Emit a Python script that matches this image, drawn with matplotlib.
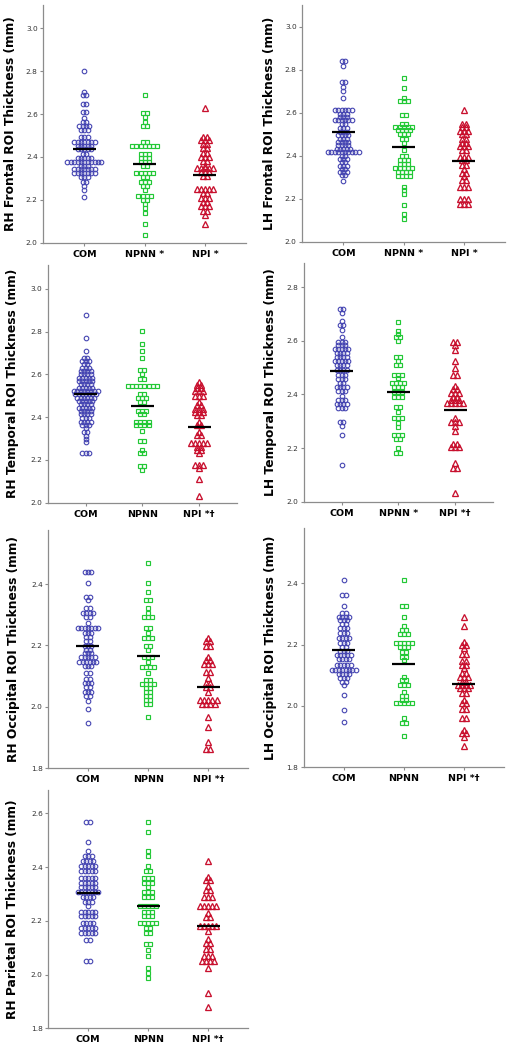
import numpy as np
import matplotlib
matplotlib.use("Agg")
import matplotlib.pyplot as plt

# ---------------- data (bin values and counts per group) ----------------
groups = ["COM", "NPNN", "NPI"]

# Panel 1: RH Frontal
rhf_com_v = [2.803, 2.705, 2.688, 2.647, 2.608, 2.580, 2.565, 2.545, 2.526, 2.495, 2.471, 2.453, 2.435, 2.414, 2.394, 2.378, 2.357, 2.342, 2.324, 2.305, 2.285, 2.265, 2.247, 2.215]
rhf_com_n = [1, 1, 2, 2, 2, 1, 2, 4, 3, 3, 7, 5, 5, 2, 5, 11, 3, 7, 7, 3, 2, 1, 1, 1]
rhf_npnn_v = [2.689, 2.605, 2.585, 2.565, 2.545, 2.471, 2.453, 2.416, 2.397, 2.378, 2.357, 2.324, 2.305, 2.285, 2.265, 2.247, 2.218, 2.199, 2.180, 2.160, 2.140, 2.087, 2.036]
rhf_npnn_n = [1, 2, 1, 1, 2, 2, 7, 3, 3, 3, 2, 5, 2, 3, 2, 1, 4, 2, 1, 1, 1, 1, 1]
rhf_npi_v = [2.627, 2.495, 2.480, 2.460, 2.440, 2.420, 2.400, 2.380, 2.360, 2.347, 2.330, 2.310, 2.249, 2.230, 2.210, 2.190, 2.170, 2.150, 2.130, 2.087]
rhf_npi_n = [1, 2, 3, 2, 2, 2, 3, 2, 1, 5, 3, 2, 5, 2, 3, 2, 3, 2, 1, 1]
rhf_mean = [2.437, 2.369, 2.318]

# Panel 2: LH Frontal
lhf_com_v = [2.843, 2.820, 2.743, 2.720, 2.700, 2.671, 2.614, 2.597, 2.582, 2.567, 2.550, 2.530, 2.513, 2.497, 2.480, 2.465, 2.450, 2.433, 2.417, 2.400, 2.385, 2.370, 2.355, 2.340, 2.325, 2.310, 2.284]
lhf_com_n = [2, 1, 2, 1, 1, 1, 6, 3, 3, 6, 2, 3, 3, 4, 3, 4, 4, 5, 10, 2, 3, 2, 3, 2, 3, 2, 1]
lhf_npnn_v = [2.761, 2.716, 2.670, 2.655, 2.591, 2.550, 2.535, 2.520, 2.500, 2.480, 2.459, 2.430, 2.400, 2.380, 2.365, 2.345, 2.325, 2.305, 2.255, 2.240, 2.225, 2.172, 2.128, 2.108]
lhf_npnn_n = [1, 1, 1, 3, 2, 2, 5, 4, 3, 2, 1, 1, 2, 3, 3, 5, 4, 4, 1, 1, 1, 1, 1, 1]
lhf_npi_v = [2.614, 2.550, 2.535, 2.515, 2.500, 2.480, 2.460, 2.445, 2.430, 2.397, 2.380, 2.360, 2.340, 2.320, 2.305, 2.290, 2.257, 2.199, 2.177]
lhf_npi_n = [1, 2, 2, 3, 2, 2, 2, 3, 2, 3, 2, 2, 1, 2, 1, 2, 3, 3, 3]
lhf_mean = [2.513, 2.440, 2.377]

# Panel 3: RH Temporal
rht_com_v = [2.877, 2.768, 2.709, 2.678, 2.662, 2.647, 2.631, 2.615, 2.600, 2.584, 2.569, 2.553, 2.537, 2.522, 2.506, 2.491, 2.475, 2.460, 2.444, 2.429, 2.413, 2.398, 2.379, 2.363, 2.348, 2.332, 2.314, 2.298, 2.282, 2.231]
rht_com_n = [1, 1, 1, 2, 3, 2, 3, 4, 4, 5, 5, 4, 5, 8, 7, 6, 5, 4, 5, 4, 4, 3, 4, 3, 1, 2, 1, 1, 1, 3]
rht_npnn_v = [2.802, 2.740, 2.709, 2.678, 2.620, 2.600, 2.580, 2.545, 2.506, 2.491, 2.472, 2.429, 2.413, 2.379, 2.363, 2.335, 2.288, 2.246, 2.231, 2.173, 2.153]
rht_npnn_n = [1, 1, 1, 1, 2, 1, 2, 8, 2, 3, 2, 3, 2, 4, 4, 1, 2, 1, 2, 2, 1]
rht_npi_v = [2.565, 2.550, 2.535, 2.520, 2.500, 2.472, 2.456, 2.440, 2.425, 2.410, 2.379, 2.363, 2.332, 2.318, 2.277, 2.262, 2.246, 2.230, 2.176, 2.160, 2.113, 2.031]
rht_npi_n = [1, 2, 2, 3, 3, 1, 2, 3, 3, 2, 1, 2, 1, 2, 5, 2, 2, 1, 3, 1, 1, 1]
rht_mean = [2.506, 2.452, 2.352]

# Panel 4: LH Temporal
lht_com_v = [2.718, 2.703, 2.672, 2.660, 2.641, 2.613, 2.597, 2.585, 2.569, 2.554, 2.539, 2.523, 2.510, 2.492, 2.473, 2.457, 2.442, 2.427, 2.411, 2.394, 2.380, 2.365, 2.348, 2.298, 2.282, 2.249, 2.137]
lht_com_n = [2, 1, 1, 2, 1, 1, 3, 3, 5, 4, 4, 5, 4, 4, 3, 3, 2, 4, 3, 1, 3, 4, 3, 2, 1, 1, 1]
lht_npnn_v = [2.670, 2.638, 2.626, 2.613, 2.600, 2.541, 2.526, 2.510, 2.473, 2.460, 2.444, 2.429, 2.410, 2.392, 2.352, 2.336, 2.311, 2.295, 2.280, 2.249, 2.232, 2.199, 2.180]
lht_npnn_n = [1, 1, 1, 2, 1, 2, 1, 2, 3, 1, 4, 3, 3, 3, 2, 1, 3, 1, 1, 3, 2, 1, 2]
lht_npi_v = [2.597, 2.585, 2.566, 2.525, 2.498, 2.473, 2.432, 2.419, 2.406, 2.392, 2.380, 2.367, 2.311, 2.298, 2.282, 2.265, 2.217, 2.205, 2.143, 2.127, 2.034]
lht_npi_n = [2, 1, 1, 1, 1, 2, 1, 2, 3, 2, 3, 5, 1, 3, 1, 1, 2, 3, 1, 2, 1]
lht_mean = [2.489, 2.410, 2.342]

# Panel 5: RH Occipital
rho_com_v = [2.440, 2.403, 2.359, 2.348, 2.323, 2.305, 2.292, 2.272, 2.258, 2.240, 2.227, 2.213, 2.198, 2.186, 2.175, 2.162, 2.147, 2.133, 2.109, 2.090, 2.077, 2.064, 2.050, 2.037, 2.020, 1.992, 1.949]
rho_com_n = [3, 1, 2, 1, 2, 4, 2, 1, 7, 3, 2, 2, 3, 2, 3, 5, 6, 3, 2, 2, 3, 2, 3, 2, 1, 1, 1]
rho_npnn_v = [2.467, 2.403, 2.373, 2.348, 2.323, 2.305, 2.292, 2.258, 2.240, 2.223, 2.198, 2.186, 2.162, 2.147, 2.131, 2.109, 2.088, 2.075, 2.062, 2.049, 2.035, 2.021, 2.008, 1.967]
rho_npnn_n = [1, 1, 1, 2, 1, 1, 3, 2, 1, 3, 2, 1, 3, 1, 4, 1, 2, 4, 2, 2, 2, 2, 2, 1]
rho_npi_v = [2.225, 2.214, 2.198, 2.163, 2.152, 2.141, 2.114, 2.093, 2.077, 2.066, 2.050, 2.023, 2.009, 1.966, 1.936, 1.887, 1.862]
rho_npi_n = [1, 2, 2, 1, 2, 3, 2, 1, 2, 2, 1, 5, 4, 1, 1, 1, 2]
rho_mean = [2.198, 2.167, 2.066]

# Panel 6: LH Occipital
lho_com_v = [2.411, 2.362, 2.326, 2.302, 2.291, 2.280, 2.267, 2.253, 2.237, 2.221, 2.206, 2.193, 2.180, 2.166, 2.152, 2.134, 2.117, 2.104, 2.090, 2.079, 2.068, 2.035, 1.987, 1.949]
lho_com_n = [1, 2, 1, 2, 4, 3, 2, 3, 3, 4, 3, 2, 3, 5, 4, 5, 8, 4, 3, 2, 1, 1, 1, 1]
lho_npnn_v = [2.411, 2.326, 2.291, 2.260, 2.249, 2.234, 2.206, 2.193, 2.177, 2.159, 2.150, 2.095, 2.084, 2.068, 2.046, 2.033, 2.019, 2.008, 1.960, 1.946, 1.902]
lho_npnn_n = [1, 2, 1, 1, 2, 3, 5, 3, 2, 2, 1, 1, 2, 3, 1, 2, 2, 5, 1, 2, 1]
lho_npi_v = [2.291, 2.260, 2.210, 2.199, 2.188, 2.170, 2.145, 2.134, 2.123, 2.109, 2.095, 2.079, 2.068, 2.057, 2.041, 2.019, 2.008, 1.989, 1.960, 1.922, 1.911, 1.900, 1.870]
lho_npi_n = [1, 1, 1, 2, 1, 2, 2, 2, 1, 2, 3, 2, 4, 3, 2, 1, 2, 2, 2, 1, 2, 1, 1]
lho_mean = [2.182, 2.137, 2.070]

# Panel 7: RH Parietal
rhp_com_v = [2.569, 2.493, 2.459, 2.441, 2.424, 2.404, 2.387, 2.358, 2.342, 2.325, 2.308, 2.288, 2.271, 2.255, 2.234, 2.218, 2.193, 2.172, 2.154, 2.129, 2.050]
rhp_com_n = [2, 1, 1, 3, 4, 5, 5, 5, 5, 5, 7, 4, 3, 1, 5, 5, 4, 5, 5, 2, 2]
rhp_npnn_v = [2.569, 2.532, 2.459, 2.441, 2.404, 2.387, 2.358, 2.342, 2.325, 2.308, 2.288, 2.255, 2.234, 2.218, 2.193, 2.172, 2.154, 2.113, 2.092, 2.070, 2.026, 2.007, 1.986]
rhp_npnn_n = [1, 1, 1, 1, 1, 2, 3, 3, 1, 3, 3, 5, 3, 3, 5, 2, 2, 2, 1, 1, 1, 1, 1]
rhp_npi_v = [2.424, 2.364, 2.352, 2.329, 2.315, 2.290, 2.255, 2.230, 2.215, 2.182, 2.163, 2.131, 2.116, 2.097, 2.070, 2.050, 2.026, 1.933, 1.881]
rhp_npi_n = [1, 1, 2, 1, 2, 3, 5, 1, 2, 5, 1, 1, 2, 2, 3, 4, 1, 1, 1]
rhp_mean = [2.302, 2.255, 2.182]

ylabels = ["RH Frontal ROI Thickness (mm)", "LH Frontal ROI Thickness (mm)",
           "RH Temporal ROI Thickness (mm)", "LH Temporal ROI Thickness (mm)",
           "RH Occipital ROI Thickness (mm)", "LH Occipital ROI Thickness (mm)",
           "RH Parietal ROI Thickness (mm)"]
xticklabels = [["COM", "NPNN *", "NPI *"], ["COM", "NPNN *", "NPI *"],
               ["COM", "NPNN", "NPI *\u2020"], ["COM", "NPNN *", "NPI *\u2020"],
               ["COM", "NPNN", "NPI *\u2020"], ["COM", "NPNN", "NPI *\u2020"],
               ["COM", "NPNN", "NPI *\u2020"]]
yticks_list = [[2.0, 2.2, 2.4, 2.6, 2.8, 3.0], [2.0, 2.2, 2.4, 2.6, 2.8, 3.0],
               [2.0, 2.2, 2.4, 2.6, 2.8, 3.0], [2.0, 2.2, 2.4, 2.6, 2.8],
               [1.8, 2.0, 2.2, 2.4], [1.8, 2.0, 2.2, 2.4], [1.8, 2.0, 2.2, 2.4, 2.6]]
ylims = [(2.0, 3.109), (2.0, 3.102), (2.0, 3.111), (2.0, 2.89),
         (1.8, 2.576), (1.8, 2.58), (1.8, 2.687)]

panels = [
    ((rhf_com_v, rhf_com_n), (rhf_npnn_v, rhf_npnn_n), (rhf_npi_v, rhf_npi_n), rhf_mean),
    ((lhf_com_v, lhf_com_n), (lhf_npnn_v, lhf_npnn_n), (lhf_npi_v, lhf_npi_n), lhf_mean),
    ((rht_com_v, rht_com_n), (rht_npnn_v, rht_npnn_n), (rht_npi_v, rht_npi_n), rht_mean),
    ((lht_com_v, lht_com_n), (lht_npnn_v, lht_npnn_n), (lht_npi_v, lht_npi_n), lht_mean),
    ((rho_com_v, rho_com_n), (rho_npnn_v, rho_npnn_n), (rho_npi_v, rho_npi_n), rho_mean),
    ((lho_com_v, lho_com_n), (lho_npnn_v, lho_npnn_n), (lho_npi_v, lho_npi_n), lho_mean),
    ((rhp_com_v, rhp_com_n), (rhp_npnn_v, rhp_npnn_n), (rhp_npi_v, rhp_npi_n), rhp_mean),
]

# ---------------- layout (pixels) ----------------
W, H, DPI = 516, 1050, 100
# left, right, top, bottom, category spacing px, ylabel x px
boxes = [
    (43.3, 246.0, 5.0, 242.7, 60.3, 17),
    (302.3, 505.0, 5.0, 242.0, 60.3, 276),
    (47.7, 237.0, 265.0, 502.7, 56.7, 19),
    (303.7, 493.0, 263.0, 501.7, 56.7, 277),
    (48.3, 248.0, 530.0, 768.3, 60.2, 20),
    (303.7, 504.0, 528.0, 767.3, 60.0, 277),
    (48.3, 248.0, 790.0, 1028.3, 60.0, 19),
]

styles = [
    dict(marker="o", color="#4646b2", ms=3.3, mew=0.8, dx=3.4),
    dict(marker="s", color="#22c836", ms=3.3, mew=0.85, dx=4.1),
    dict(marker="^", color="#c8102e", ms=3.7, mew=0.95, dx=4.1),
]
AXC = "#8c8c8c"

fig = plt.figure(figsize=(W / DPI, H / DPI), dpi=DPI)
fig.patch.set_facecolor("white")

for i, (grp_data, box) in enumerate(zip(panels, boxes)):
    left, right, top, bottom, spacing, ylx = box
    ax = fig.add_axes([left / W, 1 - bottom / H, (right - left) / W, (bottom - top) / H])
    width_px = right - left
    units = width_px / spacing
    margin = (units - 2) / 2
    ax.set_xlim(1 - margin, 3 + margin)
    ax.set_ylim(*ylims[i])
    px_per_unit = spacing
    for g in range(3):
        vals, cnts = grp_data[g]
        st = styles[g]
        dxu = st["dx"] / px_per_unit
        xs, ys = [], []
        for v, n in zip(vals, cnts):
            offs = (np.arange(n) - (n - 1) / 2.0) * dxu
            xs.extend(g + 1 + offs)
            ys.extend([v] * n)
        ax.plot(xs, ys, linestyle="none", marker=st["marker"], ms=st["ms"],
                mfc="none", mec=st["color"], mew=st["mew"], zorder=3)
    means = grp_data[3]
    hw = 11.5 / px_per_unit
    for g in range(3):
        ax.plot([g + 1 - hw, g + 1 + hw], [means[g], means[g]], color="black",
                lw=1.6, solid_capstyle="butt", zorder=4)
    for s in ["top", "right"]:
        ax.spines[s].set_visible(False)
    for s in ["left", "bottom"]:
        ax.spines[s].set_color(AXC)
        ax.spines[s].set_linewidth(0.9)
    ax.set_xticks([1, 2, 3])
    ax.set_xticklabels(xticklabels[i], fontsize=6.8, fontweight="bold",
                       family=["DejaVu Sans"])
    ax.set_yticks(yticks_list[i])
    ax.set_yticklabels(["%.1f" % t for t in yticks_list[i]], fontsize=5.3, color="#333333")
    ax.tick_params(axis="both", direction="out", length=2.5, width=0.8, color=AXC, pad=1.5)
    ax.tick_params(axis="x", pad=2.5)
    ax.set_ylabel(ylabels[i], fontsize=8.8, fontweight="bold")
    ax.yaxis.set_label_coords((ylx - left) / width_px, 0.5)
    ax.patch.set_alpha(0)

fig.savefig("out.png", dpi=DPI, facecolor="white")
